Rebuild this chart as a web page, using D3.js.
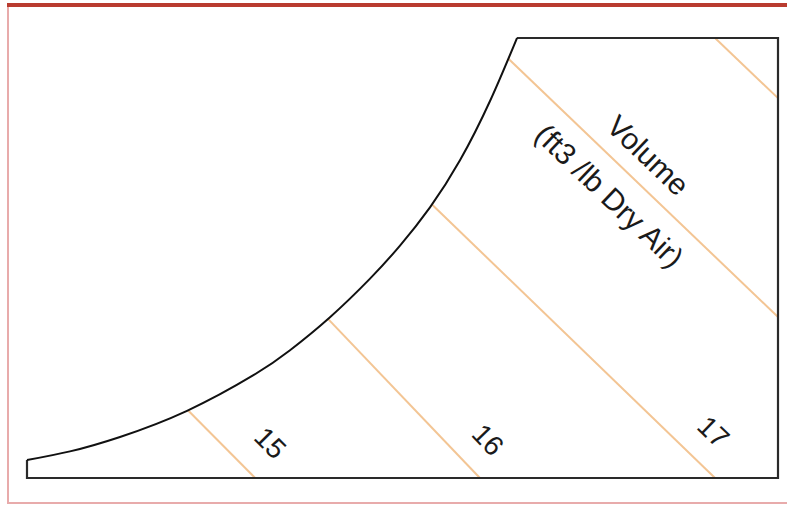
<!DOCTYPE html>
<html><head><meta charset="utf-8">
<script src="https://cdn.jsdelivr.net/npm/d3@7"></script>
<style>html,body{margin:0;padding:0;background:#fff;} svg{display:block;}</style>
</head><body>
<script>
// Axes domains: dry-bulb temperature (°F) and humidity ratio (lb/lb)
const tempDomain = [95, 225];
const humidityDomain = [0, 0.6];

// Saturation curve
const satTemp = [95, 102.44, 111.1, 122.7, 134.12, 140.53, 147.45, 154.38, 159.57, 164.76, 169.95, 175.15, 179.82];
const satHumidity = [0.0245, 0.0363, 0.056, 0.0916, 0.1398, 0.1743, 0.2193, 0.2719, 0.3169, 0.3691, 0.4332, 0.5141, 0.6];

// Specific volume lines (ft3/lb dry air)
const volumeValues = [15, 16, 17, 18, 19];
const volStartTemp = [122.9, 147.1, 165.1, 178.3, 214.1];
const volStartHum  = [0.092, 0.217, 0.373, 0.572, 0.6];
const volEndTemp   = [134.5, 173.4, 214.1, 225, 225];
const volEndHum    = [0, 0, 0, 0.2195, 0.518];

// Tick labels on the volume lines
const tickLabels = ["15", "16", "17"];
const tickLabelTemp = [137.1, 174.8, 213.8];
const tickLabelHum = [0.0477, 0.0518, 0.0627];

const titleLines = ["Volume", "(ft3 /lb Dry Air)"];

const W = 787, H = 506;
const svg = d3.select("body").append("svg").attr("width", W).attr("height", H);
const x = d3.scaleLinear().domain(tempDomain).range([27, 778]);
const y = d3.scaleLinear().domain(humidityDomain).range([478, 38]);
const font = "'Liberation Sans', Arial, Helvetica, sans-serif";

// outer border (right side falls outside the picture)
svg.append("rect").attr("x", 8).attr("y", 5).attr("width", 790).attr("height", 498)
  .attr("fill", "#fff").attr("stroke", "#e8abab").attr("stroke-width", 2);
svg.append("line").attr("x1", 7).attr("x2", 787).attr("y1", 5).attr("y2", 5)
  .attr("stroke", "#b93b2f").attr("stroke-width", 4);

// volume lines
const vol = volumeValues.map((v, i) => ({
  v, x1: x(volStartTemp[i]), y1: y(volStartHum[i]), x2: x(volEndTemp[i]), y2: y(volEndHum[i])
}));
svg.selectAll("line.vol").data(vol).join("line").attr("class", "vol")
  .attr("x1", d => d.x1).attr("y1", d => d.y1).attr("x2", d => d.x2).attr("y2", d => d.y2)
  .attr("stroke", "#f3c594").attr("stroke-width", 2);

// tick labels
tickLabels.forEach((t, i) => {
  const l = vol[i];
  const ang = Math.atan2(l.y2 - l.y1, l.x2 - l.x1) * 180 / Math.PI;
  svg.append("text")
    .attr("transform", `translate(${x(tickLabelTemp[i])},${y(tickLabelHum[i])}) rotate(${ang})`)
    .attr("text-anchor", "middle").attr("dominant-baseline", "central")
    .attr("font-family", font).attr("font-size", 28).attr("fill", "#1a1a1a")
    .text(t);
});

// title along the 18 line
{
  const L = vol[3];
  const dx = L.x2 - L.x1, dy = L.y2 - L.y1, len = Math.hypot(dx, dy);
  const ux = dx / len, uy = dy / len, nx = uy, ny = -ux;
  const cx = L.x1 + ux * 168, cy = L.y1 + uy * 168;
  const ang = Math.atan2(dy, dx) * 180 / Math.PI;
  const offs = [27, -29];
  titleLines.forEach((t, i) => {
    svg.append("text")
      .attr("transform", `translate(${cx + nx * offs[i]},${cy + ny * offs[i]}) rotate(${ang})`)
      .attr("text-anchor", "middle").attr("dominant-baseline", "central")
      .attr("font-family", font).attr("font-size", 30).attr("fill", "#1a1a1a")
      .text(t);
  });
}

// frame (top, right, bottom, left)
const last = satTemp.length - 1;
const framePts = [
  [satTemp[last], humidityDomain[1]],
  [tempDomain[1], humidityDomain[1]],
  [tempDomain[1], humidityDomain[0]],
  [tempDomain[0], humidityDomain[0]],
  [tempDomain[0], satHumidity[0]]
];
svg.append("path")
  .attr("d", d3.line().x(d => x(d[0])).y(d => y(d[1]))(framePts))
  .attr("fill", "none").attr("stroke", "#2a2a2a").attr("stroke-width", 2.2)
  .attr("stroke-linejoin", "miter");

// saturation curve
svg.append("path")
  .attr("d", d3.line().x((d, i) => x(satTemp[i])).y((d, i) => y(satHumidity[i])).curve(d3.curveNatural)(satTemp))
  .attr("fill", "none").attr("stroke", "#111").attr("stroke-width", 2);
</script>
</body></html>
